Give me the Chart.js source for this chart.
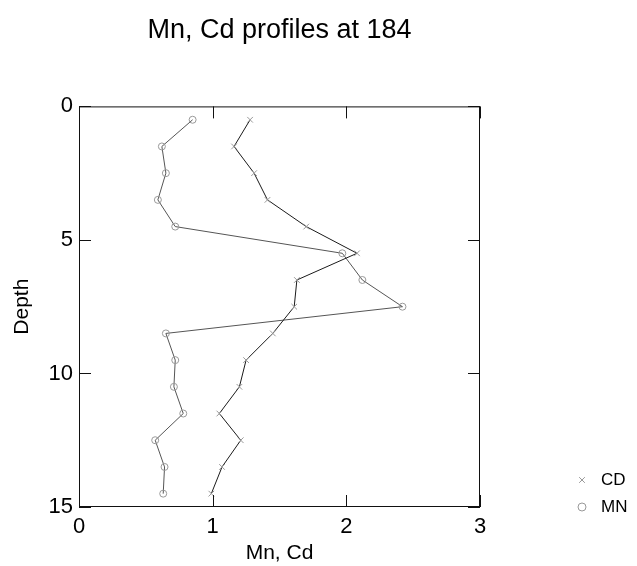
<!DOCTYPE html>
<html>
<head>
<meta charset="utf-8">
<title>Mn, Cd profiles at 184</title>
<script src="https://cdn.jsdelivr.net/npm/chart.js@4.4.1/dist/chart.umd.min.js"></script>
<style>
  html, body { margin: 0; padding: 0; background: #fff; }
  #wrap { width: 637px; height: 566px; }
</style>
</head>
<body>
<div id="wrap"><canvas id="profile" width="637" height="566"></canvas></div>
<script>
// depth of each sample (reversed y axis)
const depths = [0.5, 1.5, 2.5, 3.5, 4.5, 5.5, 6.5, 7.5, 8.5, 9.5, 10.5, 11.5, 12.5, 13.5, 14.5];
const cdValues = [1.28, 1.16, 1.31, 1.41, 1.70, 2.08, 1.63, 1.61, 1.45, 1.25, 1.20, 1.05, 1.21, 1.07, 0.99];
const mnValues = [0.85, 0.62, 0.65, 0.59, 0.72, 1.97, 2.12, 2.42, 0.65, 0.72, 0.71, 0.78, 0.57, 0.64, 0.63];
const xTicks = [0, 1, 2, 3];
const yTicks = [0, 5, 10, 15];
const seriesLabels = ['CD', 'MN'];

const fontFamily = '"Liberation Sans", Arial, Helvetica, sans-serif';

const toPoints = (values) => values.map((v, i) => ({ x: v, y: depths[i] }));

// frame, inward tick marks and the legend off to the bottom right
const framePlugin = {
  id: 'frame',
  afterDraw(chart) {
    const { ctx, chartArea } = chart;
    const xScale = chart.scales.x;
    const yScale = chart.scales.y;
    const tick = 12;
    ctx.save();
    ctx.strokeStyle = '#111';
    ctx.lineWidth = 1;
    ctx.strokeRect(chartArea.left + 0.5, chartArea.top + 0.5,
      chartArea.right - chartArea.left - 1, chartArea.bottom - chartArea.top - 1);
    ctx.beginPath();
    xTicks.forEach((t) => {
      const px = Math.round(xScale.getPixelForValue(t)) + 0.5;
      ctx.moveTo(px, chartArea.bottom);
      ctx.lineTo(px, chartArea.bottom - tick);
      ctx.moveTo(px, chartArea.top);
      ctx.lineTo(px, chartArea.top + tick);
    });
    yTicks.forEach((t) => {
      const py = Math.round(yScale.getPixelForValue(t)) + 0.5;
      ctx.moveTo(chartArea.left, py);
      ctx.lineTo(chartArea.left + tick, py);
      ctx.moveTo(chartArea.right, py);
      ctx.lineTo(chartArea.right - tick, py);
    });
    ctx.stroke();

    // legend
    ctx.font = '17px ' + fontFamily;
    ctx.textBaseline = 'middle';
    ctx.textAlign = 'left';
    chart.data.datasets.forEach((ds, i) => {
      const ly = 480 + i * 27;
      ctx.strokeStyle = ds.pointBorderColor;
      ctx.fillStyle = 'rgba(0,0,0,0)';
      ctx.lineWidth = 1;
      Chart.helpers.drawPoint(ctx, { pointStyle: ds.pointStyle, radius: 4, rotation: 0, borderWidth: 1 }, 582, ly);
      ctx.fillStyle = '#000';
      ctx.fillText(ds.label, 601, ly);
    });
    ctx.restore();
  }
};

new Chart(document.getElementById('profile'), {
  type: 'scatter',
  data: {
    datasets: [
      {
        label: seriesLabels[0],
        data: toPoints(cdValues),
        showLine: true,
        borderColor: '#1a1a1a',
        borderWidth: 1,
        pointStyle: 'crossRot',
        pointRadius: 4,
        pointBorderColor: '#999',
        pointBackgroundColor: 'rgba(0,0,0,0)',
        pointBorderWidth: 1
      },
      {
        label: seriesLabels[1],
        data: toPoints(mnValues),
        showLine: true,
        borderColor: '#555',
        borderWidth: 1,
        pointStyle: 'circle',
        pointRadius: 3.5,
        pointBorderColor: '#999',
        pointBackgroundColor: 'rgba(0,0,0,0)',
        pointBorderWidth: 1
      }
    ]
  },
  options: {
    responsive: false,
    animation: false,
    layout: { padding: { left: 0, right: 78, top: 0, bottom: 0 } },
    plugins: {
      legend: { display: false },
      tooltip: { enabled: false },
      title: {
        display: true,
        text: 'Mn, Cd profiles at 184',
        color: '#000',
        font: { family: fontFamily, size: 27, weight: 'normal' },
        padding: { top: 14, bottom: 60 }
      }
    },
    scales: {
      x: {
        type: 'linear',
        position: 'bottom',
        min: 0,
        max: 3,
        afterFit: (scale) => { scale.height = 59; },
        afterBuildTicks: (scale) => { scale.ticks = xTicks.map((v) => ({ value: v })); },
        grid: { display: false, drawTicks: false },
        border: { display: false },
        ticks: { color: '#000', padding: 7, font: { family: fontFamily, size: 22 } },
        title: {
          display: true,
          text: 'Mn, Cd',
          color: '#000',
          font: { family: fontFamily, size: 21 },
          padding: { top: 0, bottom: 0 }
        }
      },
      y: {
        type: 'linear',
        position: 'left',
        reverse: true,
        min: 0,
        max: 15,
        afterFit: (scale) => { scale.width = 79; },
        afterBuildTicks: (scale) => { scale.ticks = yTicks.map((v) => ({ value: v })); },
        grid: { display: false, drawTicks: false },
        border: { display: false },
        ticks: { color: '#000', padding: 6, font: { family: fontFamily, size: 22 } },
        title: {
          display: true,
          text: 'Depth',
          color: '#000',
          font: { family: fontFamily, size: 21 },
          padding: { top: 10, bottom: 0 }
        }
      },
      // empty right-hand axis, only reserves room so the plot sits left of the legend
      yRight: {
        type: 'linear',
        position: 'right',
        min: 0,
        max: 15,
        afterFit: (scale) => { scale.width = 79; },
        grid: { display: false, drawTicks: false },
        border: { display: false },
        ticks: { display: false }
      }
    }
  },
  plugins: [framePlugin]
});
</script>
</body>
</html>
